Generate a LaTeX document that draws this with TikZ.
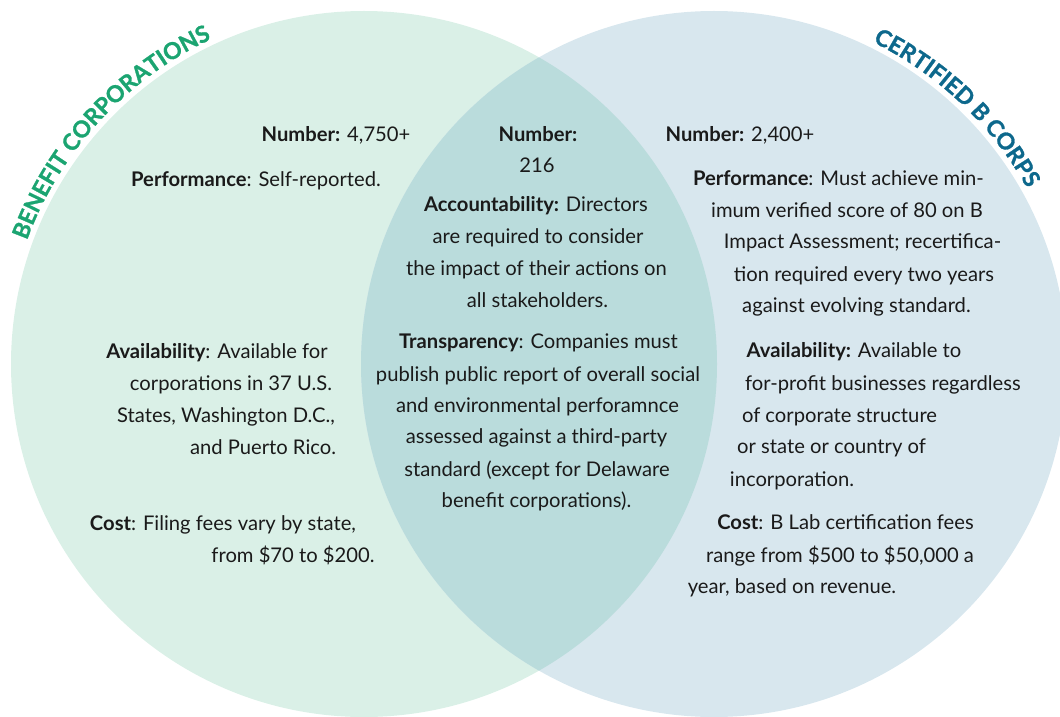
\documentclass[tikz,border=0pt]{standalone}
\usepackage{fontspec}
\setmainfont{Lato}
\usetikzlibrary{decorations.text}

\definecolor{bcfill}{RGB}{218,240,231}
\definecolor{bbfill}{RGB}{216,231,238}
\definecolor{ovfill}{RGB}{186,220,220}
\definecolor{bcgreen}{RGB}{27,164,113}
\definecolor{bbblue}{RGB}{13,104,140}
\definecolor{ink}{RGB}{26,26,26}

% heavier cut for the curved set titles
\newcommand{\settitlefont}{\fontsize{23}{23}\selectfont\bfseries\addfontfeature{FakeBold=1.2}}

\begin{document}
\begin{tikzpicture}[x=1pt,y=1pt,
  body/.style={font=\fontsize{20.2}{24}\selectfont, text=ink, inner sep=0pt, anchor=base},
  arctitle/.style={decorate, decoration={text along path, text align=center, text color=#1,
    text format delimiters={|}{|}}},
]
\useasboundingbox (0,0) rectangle (1060,716);

% circle centres
\coordinate (cb) at (364,352);
\coordinate (cc) at (714,352);

% the two sets and their overlap
\fill[bcfill] (cb) circle[radius=353];
\fill[bbfill] (cc) circle[radius=353];
\begin{scope}
  \clip (cb) circle[radius=353];
  \fill[ovfill] (cc) circle[radius=353];
\end{scope}

% curved set titles
\path[arctitle=bcgreen, decoration={text={|\settitlefont|BENEFIT CORPORATIONS}}]
  (cb) ++(161:359) arc[start angle=161, end angle=114, radius=359];
\path[arctitle=bbblue, decoration={text={|\settitlefont|CERTIFIED B CORPS}}]
  (cc) ++(64:359) arc[start angle=64, end angle=29, radius=359];

% benefit corporations
\node[body] (l1) at (336,574) {\textbf{Number:} 4,750+};
\node[body] (l2) at (256,529) {\textbf{Performance}: Self-reported.};
\node[body] (l3) at (217,358) {\textbf{Availability}: Available for};
\node[body] (l4) at (231,326) {corporations in 37 U.S.};
\node[body] (l5) at (226,294) {States, Washington D.C.,};
\node[body] (l6) at (263,262) {and Puerto Rico.};
\node[body] (l7) at (223,186) {\textbf{Cost}: Filing fees vary by state,};
\node[body] (l8) at (293,154) {from \$70 to \$200.};

% shared
\node[body] (m1) at (538,574) {\textbf{Number:}};
\node[body] (m2) at (537,543) {216};
\node[body] (m3) at (536,504) {\textbf{Accountability:} Directors};
\node[body] (m4) at (538,472) {are required to consider};
\node[body] (m5) at (536.5,440) {the impact of their actions on};
\node[body] (m6) at (537.5,408) {all stakeholders.};
\node[body] (m7) at (538.5,368) {\textbf{Transparency}: Companies must};
\node[body] (m8) at (538,335) {publish public report of overall social};
\node[body] (m9) at (537.5,304) {and environmental perforamnce};
\node[body] (m10) at (536.5,273) {assessed against a third-party};
\node[body] (m11) at (537,240) {standard (except for Delaware};
\node[body] (m12) at (536.5,209) {benefit corporations).};

% certified b corps
\node[body] (r1) at (740,574) {\textbf{Number:} 2,400+};
\node[body] (r2) at (838.5,530) {\textbf{Performance}: Must achieve min-};
\node[body] (r3) at (847,498) {imum verified score of 80 on B};
\node[body] (r4) at (862.5,467) {Impact Assessment; recertifica-};
\node[body] (r5) at (864,434) {tion required every two years};
\node[body] (r6) at (856.5,403) {against evolving standard.};
\node[body] (r7) at (854,359) {\textbf{Availability:} Available to};
\node[body] (r8) at (883,326) {for-profit businesses regardless};
\node[body] (r9) at (839.5,294) {of corporate structure};
\node[body] (r10) at (831.5,263) {or state or country of};
\node[body] (r11) at (792,230) {incorporation.};
\node[body] (r12) at (845.5,187) {\textbf{Cost}: B Lab certification fees};
\node[body] (r13) at (840,154) {range from \$500 to \$50,000 a};
\node[body] (r14) at (792,123) {year, based on revenue.};
\end{tikzpicture}
\end{document}
